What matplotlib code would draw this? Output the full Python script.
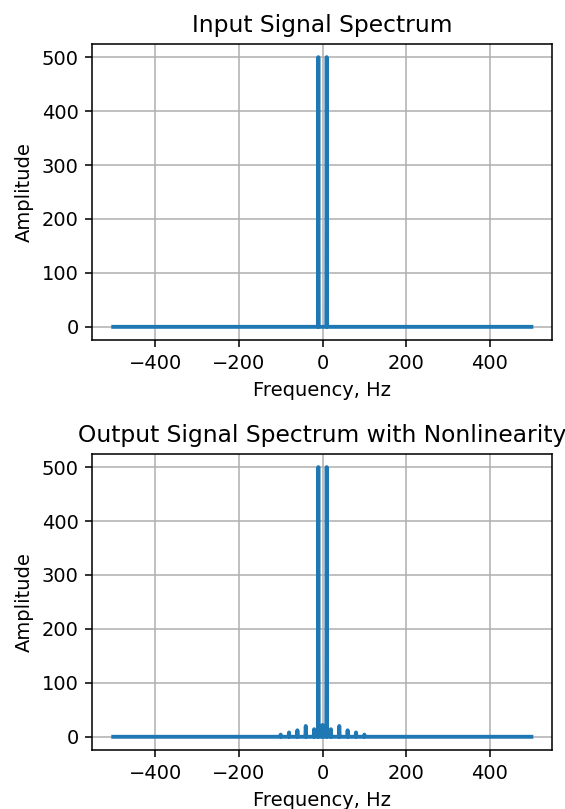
import numpy as np
import matplotlib
matplotlib.use("Agg")
from matplotlib import pyplot as plt

# frequency axis of the FFT (1 Hz bins, fs = 1000 Hz)
freq_axis = np.arange(-500, 500)

# input spectrum: the tone and its mirror
input_peak_freqs = [-10, 10]
input_peak_amps = [500, 500]

# output spectrum: tone plus products of the nonlinearity
output_peak_freqs = [-100, -80, -60, -40, -20, -10, 0, 10, 20, 40, 60, 80, 100]
output_peak_amps = [4, 8, 12, 20, 14, 500, 22, 500, 14, 20, 12, 8, 4]


def build_spectrum(peak_freqs, peak_amps):
    """ Puts the read-off peak values into their FFT bins """
    spectrum = np.zeros(len(freq_axis))
    for f, a in zip(peak_freqs, peak_amps):
        spectrum[np.searchsorted(freq_axis, f)] = a
    return spectrum


dpi = 140
fig, (ax1, ax2) = plt.subplots(2, 1, figsize=(565 / dpi, 809 / dpi), dpi=dpi)
fig.subplots_adjust(left=0.1634, right=0.9775, top=0.946, bottom=0.0726, hspace=0.382)

ax1.plot(freq_axis, build_spectrum(input_peak_freqs, input_peak_amps), lw=2)
ax1.set_title("Input Signal Spectrum")
ax1.set_xlabel("Frequency, Hz")
ax1.set_ylabel("Amplitude")
ax1.grid(True)

ax2.plot(freq_axis, build_spectrum(output_peak_freqs, output_peak_amps), lw=2)
ax2.set_title("Output Signal Spectrum with Nonlinearity")
ax2.set_xlabel("Frequency, Hz")
ax2.set_ylabel("Amplitude")
ax2.grid(True)

fig.savefig("out.png", dpi=dpi)
